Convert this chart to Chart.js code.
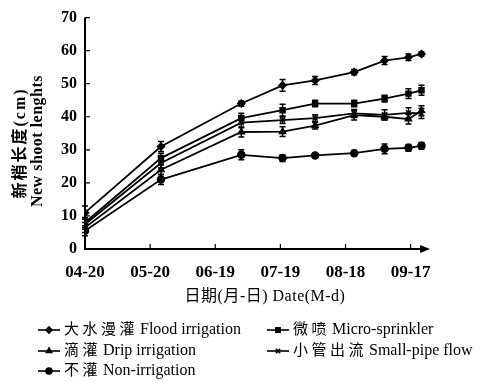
<!DOCTYPE html>
<html>
<head>
<meta charset="utf-8">
<script src="https://cdn.jsdelivr.net/npm/chart.js@4.4.1/dist/chart.umd.min.js"></script>
<style>
	body { margin: 0; background: #fff; }
	#wrap { position: relative; width: 484px; height: 382px; }
	#legend { position: absolute; left: 0; top: 0; width: 484px; height: 382px; pointer-events: none;
		font-family: "Liberation Serif", "Noto Sans CJK SC", serif; font-size: 16px; color: #000; }
	.item { position: absolute; height: 18px; line-height: 18px; white-space: nowrap; }
	.item canvas { vertical-align: middle; margin-right: 4px; }
	.zh { font-family: "Noto Sans CJK SC", sans-serif; font-size: 15px; letter-spacing: 3.5px; margin-right: 2px; }
</style>
</head>
<body>
<div id="wrap">
	<canvas id="shootChart" width="484" height="382"></canvas>
	<div id="legend"></div>
</div>
<script>
// x axis: days after 04-20
const dayTicks = [0, 30, 60, 90, 120, 150];
const dateLabels = ['04-20', '05-20', '06-19', '07-19', '08-18', '09-17'];
const sampleDays = [0, 35, 72, 91, 106, 124, 138, 149, 155];

const seriesNames = ['大水漫灌 Flood irrigation', '微喷 Micro-sprinkler', '滴灌 Drip irrigation', '小管出流 Small-pipe flow', '不灌 Non-irrigation'];

const floodVals = [11, 31, 44, 49.5, 51, 53.5, 57, 58, 59];
const microVals = [8, 27.5, 39.6, 42, 44, 44, 45.5, 47, 48];
const dripVals = [6.5, 24, 35.4, 35.5, 37.3, 40.5, 40, 39.3, 41.8];
const pipeVals = [7.5, 26, 38.2, 39, 39.6, 41, 40.6, 41.2, 41];
const noneVals = [5.5, 21, 28.5, 27.5, 28.3, 29, 30.3, 30.6, 31.2];

const floodErr = [2, 1.5, 0.8, 1.8, 1.2, 0.8, 1.2, 1, 0.6];
const microErr = [1.5, 1.5, 1.5, 1.8, 1, 1, 1, 1.5, 1.5];
const dripErr = [1.5, 1.5, 1.5, 1.5, 1, 1.5, 1, 1.5, 1.5];
const pipeErr = [1.5, 1.5, 1.5, 1, 1, 1.2, 1.5, 1.5, 1.5];
const noneErr = [1.5, 1.5, 1.5, 1, 0.6, 0.8, 1.5, 1, 1];

const yTicks = [0, 10, 20, 30, 40, 50, 60, 70];
const yTitleZh = '新梢长度(cm)';
const yTitleEn = 'New shoot lenghts';
const xTitle = '日期(月-日) Date(M-d)';

const allVals = [floodVals, microVals, dripVals, pipeVals, noneVals];
const allErr = [floodErr, microErr, dripErr, pipeErr, noneErr];
const markerStyles = ['rectRot', 'rect', 'triangle', 'crossRot', 'circle'];

function toPoints(vals){
	return vals.map((v, i) => ({ x: sampleDays[i], y: v }));
}

let datasets = [];
for(let i = 0; i < allVals.length; i++){
	datasets.push({
		label: seriesNames[i],
		data: toPoints(allVals[i]),
		errors: allErr[i],
		borderColor: '#000',
		backgroundColor: '#000',
		borderWidth: 1.8,
		pointStyle: markerStyles[i],
		pointRadius: 3.5,
		pointBorderWidth: 1.5,
		tension: 0
	});
}

// error bars, axes with inward ticks, arrow and the two axis titles
const extrasPlugin = {
	id: 'extras',
	afterDatasetsDraw(chart){
		let ctx = chart.ctx;
		let xs = chart.scales.x;
		let ys = chart.scales.y;
		ctx.save();
		ctx.strokeStyle = '#000';
		ctx.fillStyle = '#000';
		ctx.lineWidth = 1.5;
		chart.data.datasets.forEach(ds => {
			ds.data.forEach((p, i) => {
				let e = ds.errors[i];
				let px = xs.getPixelForValue(p.x);
				let top = ys.getPixelForValue(p.y + e);
				let bot = ys.getPixelForValue(p.y - e);
				ctx.beginPath();
				ctx.moveTo(px, top); ctx.lineTo(px, bot);
				ctx.moveTo(px - 3, top); ctx.lineTo(px + 3, top);
				ctx.moveTo(px - 3, bot); ctx.lineTo(px + 3, bot);
				ctx.stroke();
			});
		});

		let area = chart.chartArea;
		let x0 = xs.getPixelForValue(0);
		let y0 = ys.getPixelForValue(0);
		ctx.lineWidth = 2;
		ctx.beginPath();
		ctx.moveTo(x0, ys.getPixelForValue(70));
		ctx.lineTo(x0, y0);
		ctx.lineTo(area.right - 2, y0);
		ctx.stroke();
		ctx.beginPath();
		ctx.moveTo(area.right + 2, y0);
		ctx.lineTo(area.right - 8, y0 - 4);
		ctx.lineTo(area.right - 8, y0 + 4);
		ctx.closePath();
		ctx.fill();
		ctx.lineWidth = 1.2;
		ctx.beginPath();
		yTicks.forEach(v => {
			if(v == 0) return;
			let py = ys.getPixelForValue(v);
			ctx.moveTo(x0, py); ctx.lineTo(x0 + 5, py);
		});
		dayTicks.forEach(v => {
			if(v == 0) return;
			let px = xs.getPixelForValue(v);
			ctx.moveTo(px, y0); ctx.lineTo(px, y0 - 5);
		});
		ctx.stroke();

		// y title, two rotated lines
		ctx.textAlign = 'center';
		ctx.textBaseline = 'middle';
		ctx.save();
		ctx.translate(21, 143);
		ctx.rotate(-Math.PI / 2);
		ctx.font = 'bold 16px "Liberation Serif", "Noto Sans CJK SC"';
		ctx.letterSpacing = '2px';
		ctx.fillText(yTitleZh, 0, 0);
		ctx.restore();
		ctx.save();
		ctx.translate(38, 141);
		ctx.rotate(-Math.PI / 2);
		ctx.font = 'bold 16px "Liberation Serif"';
		ctx.letterSpacing = '0.5px';
		ctx.fillText(yTitleEn, 0, 0);
		ctx.restore();

		// x title
		ctx.font = '16px "Liberation Serif", "Noto Sans CJK SC"';
		ctx.letterSpacing = '0.5px';
		ctx.fillText(xTitle, 265, 297);
		ctx.restore();
	}
};

let ctxL = document.getElementById('shootChart').getContext('2d');
let shootChart = new Chart(ctxL, {
	type: 'line',
	data: { datasets: datasets },
	options: {
		responsive: false,
		animation: false,
		layout: { padding: { top: 8, right: 56, bottom: 0, left: 0 } },
		plugins: {
			legend: { display: false },
			tooltip: { enabled: false }
		},
		scales: {
			x: {
				type: 'linear',
				min: 0,
				max: 158,
				afterBuildTicks: scale => { scale.ticks = dayTicks.map(v => ({ value: v })); },
				afterFit: scale => { scale.height = 133; },
				ticks: {
					color: '#000',
					font: { family: 'Liberation Serif', size: 17, weight: 'bold' },
					padding: 13,
					maxRotation: 0,
					callback: v => dateLabels[dayTicks.indexOf(v)]
				},
				grid: { display: false, drawTicks: false },
				border: { display: false }
			},
			y: {
				min: 0,
				max: 70,
				afterBuildTicks: scale => { scale.ticks = yTicks.map(v => ({ value: v })); },
				afterFit: scale => { scale.width = 85; },
				ticks: { color: '#000', font: { family: 'Liberation Serif', size: 16, weight: 'bold' }, padding: 8 },
				grid: { display: false, drawTicks: false },
				border: { display: false }
			}
		}
	},
	plugins: [extrasPlugin]
});

// legend built as html, two columns
function renderLegend(){
	let legendDiv = document.getElementById('legend');
	let spots = [[38, 319], [267, 319], [38, 340], [267, 340], [38, 360]];
	seriesNames.forEach((name, idx) => {
		let item = document.createElement('div');
		item.classList.add('item');
		item.style.left = spots[idx][0] + 'px';
		item.style.top = spots[idx][1] + 'px';
		let sample = document.createElement('canvas');
		sample.width = 22; sample.height = 10;
		let c = sample.getContext('2d');
		c.strokeStyle = '#000'; c.lineWidth = 1.6;
		c.beginPath(); c.moveTo(0, 5); c.lineTo(22, 5); c.stroke();
		Chart.helpers.drawPoint(c, { pointStyle: markerStyles[idx], radius: 3, borderWidth: 1 }, 11, 5);
		c.fillStyle = '#000'; c.fill();
		item.appendChild(sample);
		let parts = name.split(' ');
		let zh = document.createElement('span');
		zh.classList.add('zh');
		zh.innerText = parts[0];
		item.appendChild(zh);
		let en = document.createElement('span');
		en.innerText = parts.slice(1).join(' ');
		item.appendChild(en);
		legendDiv.appendChild(item);
	});
}
renderLegend();
</script>
</body>
</html>
